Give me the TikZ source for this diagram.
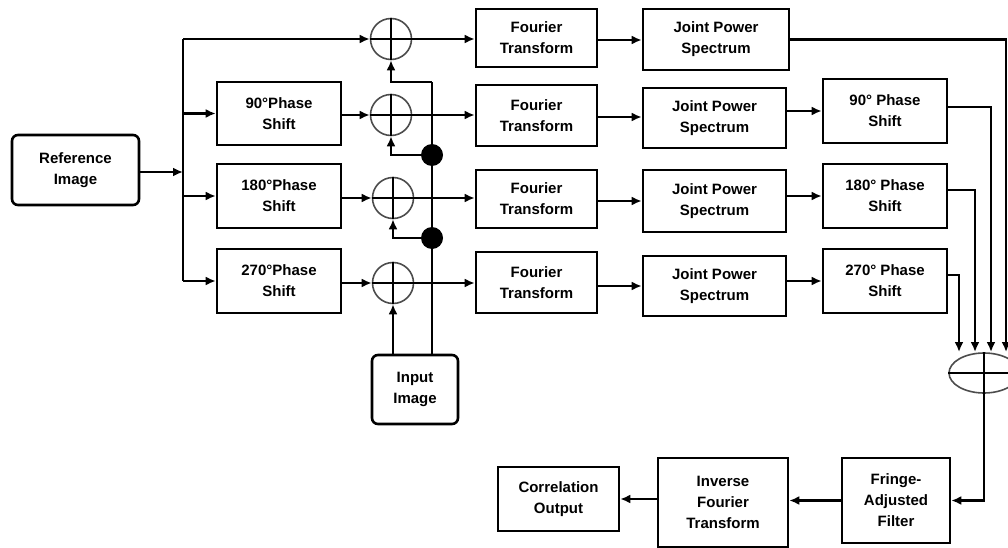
\documentclass[tikz,border=0pt]{standalone}
\usepackage{fontspec}
\setmainfont{Liberation Sans}
\usetikzlibrary{arrows.meta,shapes.geometric,calc}
\tikzset{
  blk/.style={draw=black, line width=2.6pt, align=center, inner sep=0pt,
    font=\fontsize{15}{21}\selectfont\bfseries},
  rblk/.style={blk, rounded corners=6pt},
  sumc/.style={circle, draw=black!70, line width=1.6pt, minimum size=41pt, inner sep=0pt},
  sume/.style={ellipse, draw=black!70, line width=1.6pt, minimum width=70pt, minimum height=40pt, inner sep=0pt},
  dot/.style={circle, fill=black, minimum size=22pt, inner sep=0pt},
  ln/.style={line width=2.2pt, black},
  arr/.style={ln, -{Latex[length=10pt,width=9pt]}},
  crs/.style={line width=2.2pt, black}
}
\begin{document}
\begin{tikzpicture}[x=1pt,y=-1pt]
\useasboundingbox (0,0) rectangle (1008,548);
\clip (0,0) rectangle (1008,548);
% boxes
\node[rblk, minimum width=127pt, minimum height=70pt] (ref) at (75.5,170) {Reference\\Image};
\node[blk, minimum width=124pt, minimum height=63pt] (ps1) at (279,113.5) {90°Phase\\Shift};
\node[blk, minimum width=124pt, minimum height=64pt] (ps2) at (279,196) {180°Phase\\Shift};
\node[blk, minimum width=124pt, minimum height=64pt] (ps3) at (279,281) {270°Phase\\Shift};
\node[blk, minimum width=121pt, minimum height=58pt] (ft1) at (536.5,38) {Fourier\\Transform};
\node[blk, minimum width=121pt, minimum height=61pt] (ft2) at (536.5,115.5) {Fourier\\Transform};
\node[blk, minimum width=121pt, minimum height=58pt] (ft3) at (536.5,199) {Fourier\\Transform};
\node[blk, minimum width=121pt, minimum height=61pt] (ft4) at (536.5,282.5) {Fourier\\Transform};
\node[blk, minimum width=146pt, minimum height=61pt] (jps1) at (716,39.5) {Joint Power\\Spectrum};
\node[blk, minimum width=143pt, minimum height=60pt] (jps2) at (714.5,118) {Joint Power\\Spectrum};
\node[blk, minimum width=143pt, minimum height=62pt] (jps3) at (714.5,201) {Joint Power\\Spectrum};
\node[blk, minimum width=143pt, minimum height=60pt] (jps4) at (714.5,286) {Joint Power\\Spectrum};
\node[blk, minimum width=124pt, minimum height=64pt] (rps1) at (885,111) {90° Phase\\Shift};
\node[blk, minimum width=124pt, minimum height=64pt] (rps2) at (885,196) {180° Phase\\Shift};
\node[blk, minimum width=124pt, minimum height=64pt] (rps3) at (885,281) {270° Phase\\Shift};
\node[rblk, minimum width=86pt, minimum height=69pt] (inp) at (415,389.5) {Input\\Image};
\node[blk, minimum width=108pt, minimum height=85pt] (fri) at (896,500.5) {Fringe-\\Adjusted\\Filter};
\node[blk, minimum width=130pt, minimum height=89pt] (ift) at (723,502.5) {Inverse\\Fourier\\Transform};
\node[blk, minimum width=121pt, minimum height=64pt] (cor) at (558.5,499) {Correlation\\Output};
% summing junctions
\node[sumc] (c1) at (391,39) {};
\node[sumc] (c2) at (391,115) {};
\node[sumc] (c3) at (393,198) {};
\node[sumc] (c4) at (393,283) {};
\node[sume] (se) at (984,373) {};
\foreach \c in {c1,c2,c3,c4,se}{
  \draw[crs] (\c.west) -- (\c.east);
  \draw[crs] (\c.north) -- (\c.south);
}
\node[dot] (d1) at (432,155) {};
\node[dot] (d2) at (432,238) {};
% coordinates
\coordinate (bt) at (183,39);
\coordinate (bm) at (183,172);
\coordinate (vt) at (432,82);
\coordinate (e1) at (959,352);
\coordinate (e2) at (975,352);
\coordinate (e3) at (991,352);
\coordinate (e4) at (1006,352);
% reference side
\draw[arr] (ref.east |- bm) -- (bm);
\draw[ln] (bt) -- (ps3 -| bt);
\draw[arr] (bt) -- (c1.west);
\draw[arr] (ps1 -| bt) -- (ps1.west);
\draw[arr] (ps2 -| bt) -- (ps2.west);
\draw[arr] (ps3 -| bt) -- (ps3.west);
\draw[arr] (ps1.east |- c2) -- (c2.west);
\draw[arr] (ps2.east |- c3) -- (c3.west);
\draw[arr] (ps3.east |- c4) -- (c4.west);
% input side
\draw[ln] (inp.north -| vt) -- (vt);
\draw[arr] (vt) -| (c1.south);
\draw[arr] (d1) -| (c2.south);
\draw[arr] (d2) -| (c3.south);
\draw[arr] (inp.north -| c4) -- (c4.south);
% to Fourier
\draw[arr] (c1.east) -- (ft1.west |- c1);
\draw[arr] (c2.east) -- (ft2.west |- c2);
\draw[arr] (c3.east) -- (ft3.west |- c3);
\draw[arr] (c4.east) -- (ft4.west |- c4);
\draw[arr] (ft1.east |- 0,40) -- (jps1.west |- 0,40);
\draw[arr] (ft2.east |- 0,117) -- (jps2.west |- 0,117);
\draw[arr] (ft3.east |- 0,201) -- (jps3.west |- 0,201);
\draw[arr] (ft4.east |- 0,286) -- (jps4.west |- 0,286);
\draw[arr] (jps2.east |- rps1) -- (rps1.west);
\draw[arr] (jps3.east |- rps2) -- (rps2.west);
\draw[arr] (jps4.east |- rps3) -- (rps3.west);
% to sum
\draw[arr] (jps1.east) -| (e4);
\draw[arr] ([yshift=4pt]rps1.east) -| (e3);
\draw[arr] ([yshift=6pt]rps2.east) -| (e2);
\draw[arr] ([yshift=6pt]rps3.east) -| (e1);
% output chain
\draw[arr] (se.south) |- (fri.east);
\draw[arr] (fri.west) -- (ift.east |- fri.west);
\draw[arr] (ift.west |- cor) -- (cor.east);
\end{tikzpicture}
\end{document}
